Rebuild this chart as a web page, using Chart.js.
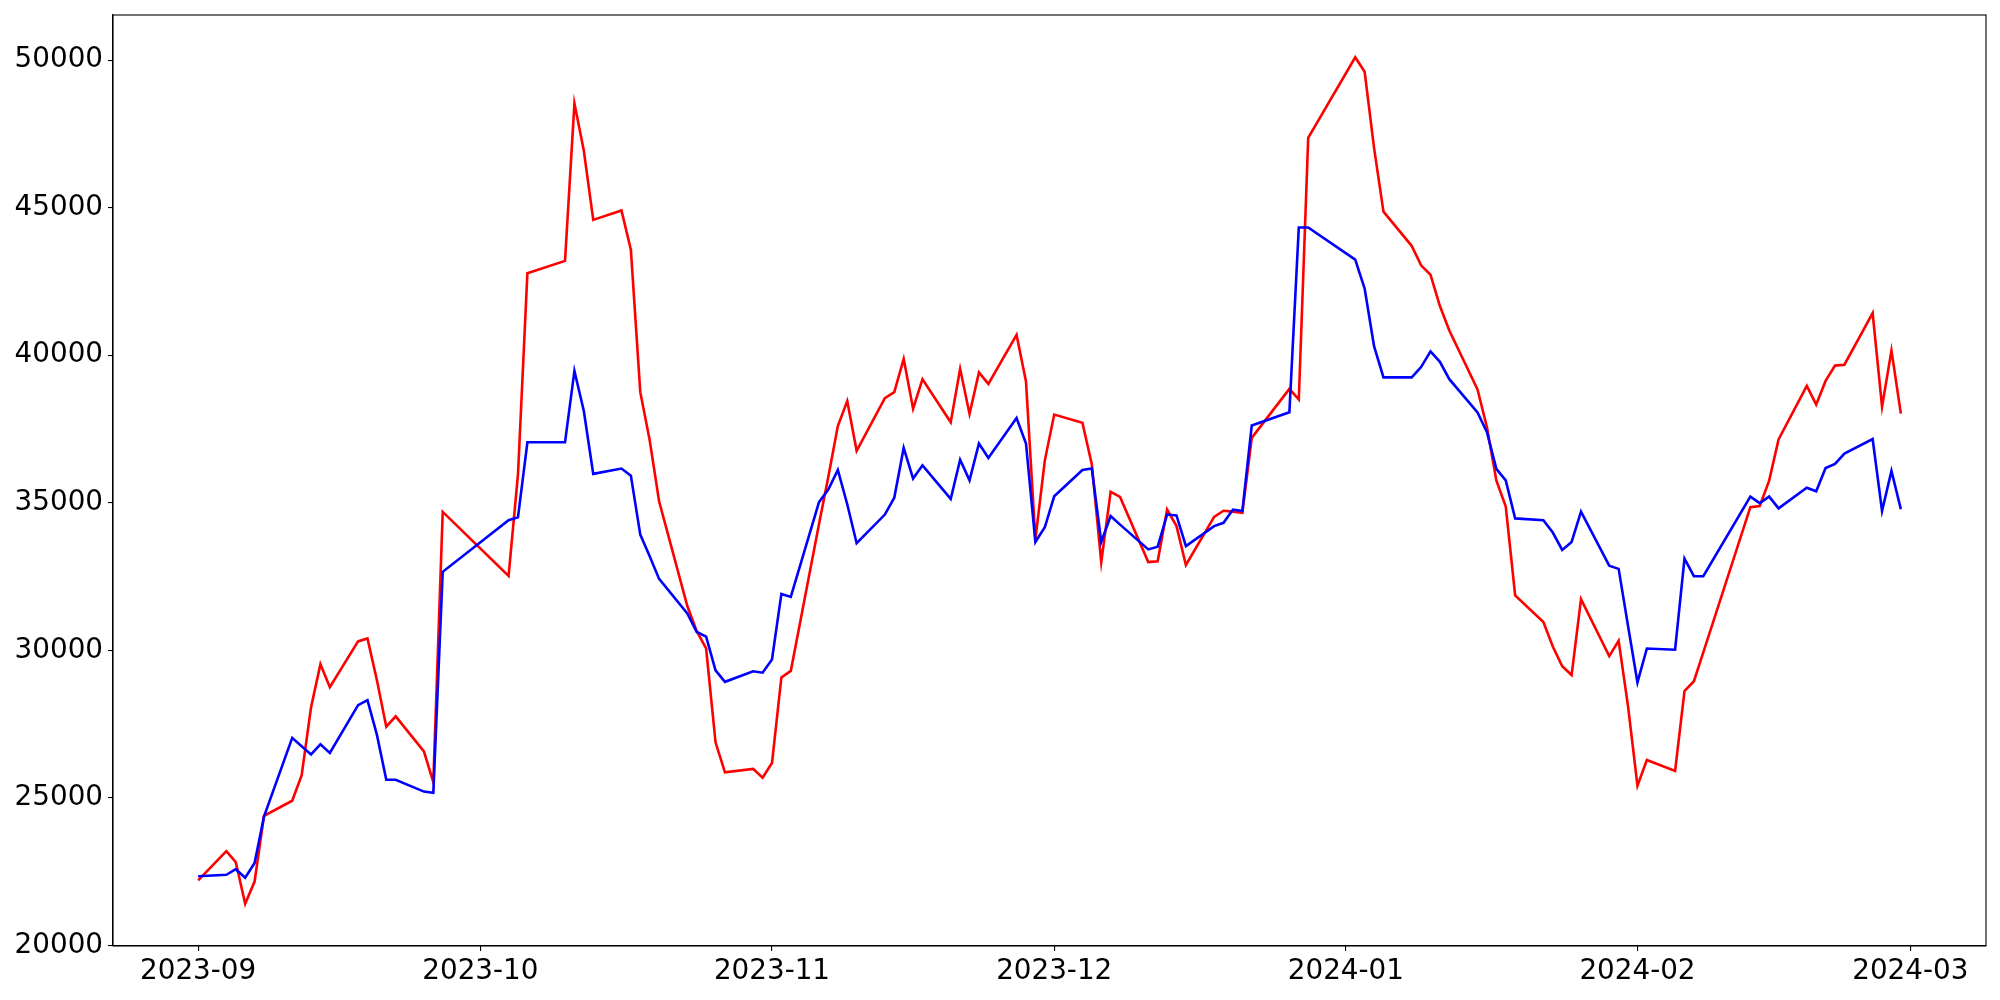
<!DOCTYPE html>
<html>
<head>
<meta charset="utf-8">
<title>Chart</title>
<script src="https://cdn.jsdelivr.net/npm/chart.js@4.4.1/dist/chart.umd.min.js"></script>
<style>
    html, body { margin: 0; padding: 0; background: #ffffff; }
    #chart { display: block; }
</style>
</head>
<body>
<canvas id="chart" width="2000" height="1000"></canvas>
<script>
// Trading days (Sep 2023 - Feb 2024)
const dates = [
    '2023-09-01','2023-09-04','2023-09-05','2023-09-06','2023-09-07','2023-09-08','2023-09-11','2023-09-12','2023-09-13','2023-09-14',
    '2023-09-15','2023-09-18','2023-09-19','2023-09-20','2023-09-21','2023-09-22','2023-09-25','2023-09-26','2023-09-27',
    '2023-10-04','2023-10-05','2023-10-06','2023-10-10','2023-10-11','2023-10-12','2023-10-13','2023-10-16','2023-10-17','2023-10-18',
    '2023-10-19','2023-10-20','2023-10-23','2023-10-24','2023-10-25','2023-10-26','2023-10-27','2023-10-30','2023-10-31',
    '2023-11-01','2023-11-02','2023-11-03','2023-11-06','2023-11-07','2023-11-08','2023-11-09','2023-11-10','2023-11-13','2023-11-14',
    '2023-11-15','2023-11-16','2023-11-17','2023-11-20','2023-11-21','2023-11-22','2023-11-23','2023-11-24','2023-11-27','2023-11-28',
    '2023-11-29','2023-11-30',
    '2023-12-01','2023-12-04','2023-12-05','2023-12-06','2023-12-07','2023-12-08','2023-12-11','2023-12-12','2023-12-13','2023-12-14',
    '2023-12-15','2023-12-18','2023-12-19','2023-12-20','2023-12-21','2023-12-22','2023-12-26','2023-12-27','2023-12-28',
    '2024-01-02','2024-01-03','2024-01-04','2024-01-05','2024-01-08','2024-01-09','2024-01-10','2024-01-11','2024-01-12','2024-01-15',
    '2024-01-16','2024-01-17','2024-01-18','2024-01-19','2024-01-22','2024-01-23','2024-01-24','2024-01-25','2024-01-26','2024-01-29',
    '2024-01-30','2024-01-31',
    '2024-02-01','2024-02-02','2024-02-05','2024-02-06','2024-02-07','2024-02-08','2024-02-13','2024-02-14','2024-02-15','2024-02-16',
    '2024-02-19','2024-02-20','2024-02-21','2024-02-22','2024-02-23','2024-02-26','2024-02-27','2024-02-28','2024-02-29'
];

// Serie roja
const redValues = [
    22200, 23190, 22820, 21410, 22160, 24390, 24900, 25760, 28060, 29530,
    28750, 30300, 30400, 28990, 27410, 27760, 26570, 25530, 34690,
    32520, 35960, 42780, 43200, 48540, 46930, 44590, 44910, 43580, 38750,
    37120, 35050, 31500, 30650, 30060, 26880, 25860, 25980, 25680,
    26180, 29080, 29300, 34280, 35900, 37600, 38450, 36760, 38550, 38750,
    39880, 38190, 39190, 37730, 39540, 38010, 39420, 39030, 40690, 39110,
    33760, 36430,
    37990, 37710, 36300, 32990, 35370, 35200, 32990, 33020, 34770, 34210,
    32890, 34520, 34730, 34700, 34660, 37200, 38860, 38500, 47370,
    50100, 49610, 47030, 44870, 43710, 43050, 42730, 41670, 40840, 38840,
    37560, 35760, 34870, 31860, 30960, 30130, 29460, 29160, 31730, 29800,
    30320, 28100,
    25410, 26280, 25910, 28620, 28950, 29930, 34850, 34890, 35750, 37150,
    38960, 38330, 39130, 39650, 39680, 41430, 38260, 40160, 38020
];

// Serie azul
const blueValues = [
    22340, 22390, 22580, 22290, 22790, 24360, 27030, 26750, 26470, 26810,
    26520, 28140, 28310, 27140, 25610, 25610, 25210, 25170, 32660,
    34410, 34510, 37050, 37050, 39470, 38110, 35980, 36160, 35920, 33920,
    33190, 32420, 31250, 30620, 30460, 29320, 28930, 29290, 29240,
    29690, 31910, 31810, 35020, 35460, 36110, 34950, 33630, 34600, 35170,
    36860, 35820, 36270, 35130, 36460, 35760, 37010, 36520, 37870, 37010,
    33670, 34170,
    35220, 36110, 36160, 33670, 34550, 34260, 33420, 33510, 34600, 34570,
    33530, 34210, 34320, 34770, 34720, 37620, 38070, 44330, 44330,
    43240, 42260, 40310, 39250, 39250, 39600, 40130, 39780, 39190, 38060,
    37390, 36150, 35760, 34470, 34410, 33990, 33400, 33670, 34700, 32870,
    32760, 30820,
    28910, 30060, 30020, 33110, 32510, 32510, 35210, 34990, 35210, 34810,
    35510, 35390, 36180, 36320, 36670, 37160, 34720, 36080, 34780
];

// Ticks del eje X (inicio de cada mes) y del eje Y
const xTickDates = ['2023-09-01', '2023-10-01', '2023-11-01', '2023-12-01', '2024-01-01', '2024-02-01', '2024-03-01'];
const xTickLabels = ['2023-09', '2023-10', '2023-11', '2023-12', '2024-01', '2024-02', '2024-03'];
const yTicks = [20000, 25000, 30000, 35000, 40000, 45000, 50000];

document.addEventListener('DOMContentLoaded', () => {
    const DAY = 86400000;
    const origin = Date.parse(dates[0]);
    const toDay = (d) => (Date.parse(d) - origin) / DAY;

    const days = dates.map(toDay);
    const xTickDays = xTickDates.map(toDay);

    // margen del 5% como matplotlib
    const xSpan = days[days.length - 1] - days[0];
    const allValues = redValues.concat(blueValues);
    const yLo = Math.min(...allValues);
    const yHi = Math.max(...allValues);
    const ySpan = yHi - yLo;

    const font = { family: 'DejaVu Sans', size: 27.8 };
    const lineWidth = 2.6;

    // Marco completo alrededor del área del gráfico
    const frame = {
        id: 'frame',
        afterDraw(chart) {
            const { ctx, chartArea } = chart;
            ctx.save();
            ctx.strokeStyle = '#000000';
            ctx.lineWidth = 1.1;
            ctx.strokeRect(chartArea.left, chartArea.top, chartArea.right - chartArea.left, chartArea.bottom - chartArea.top);
            ctx.restore();
        }
    };

    new Chart(document.getElementById('chart'), {
        type: 'line',
        data: {
            datasets: [
                {
                    data: days.map((d, i) => ({ x: d, y: blueValues[i] })),
                    borderColor: '#0000ff',
                    borderWidth: lineWidth,
                    pointRadius: 0,
                    tension: 0,
                    fill: false
                },
                {
                    data: days.map((d, i) => ({ x: d, y: redValues[i] })),
                    borderColor: '#ff0000',
                    borderWidth: lineWidth,
                    pointRadius: 0,
                    tension: 0,
                    fill: false
                }
            ]
        },
        options: {
            responsive: false,
            devicePixelRatio: 1,
            animation: false,
            layout: { padding: { left: 0, top: 15, right: 14, bottom: 0 } },
            plugins: {
                legend: { display: false },
                tooltip: { enabled: false }
            },
            scales: {
                x: {
                    type: 'linear',
                    min: days[0] - xSpan * 0.05,
                    max: days[days.length - 1] + xSpan * 0.05,
                    afterBuildTicks: (scale) => { scale.ticks = xTickDays.map(v => ({ value: v })); },
                    afterFit: (scale) => { scale.height = 54; scale.paddingLeft = 0; scale.paddingRight = 0; },
                    grid: { drawOnChartArea: false, drawTicks: true, tickLength: 5, color: '#000000', lineWidth: 1.1 },
                    border: { display: true, color: '#000000', width: 1.1 },
                    ticks: {
                        color: '#000000',
                        font: font,
                        padding: 4,
                        maxRotation: 0,
                        autoSkip: false,
                        callback: (value) => {
                            const idx = xTickDays.indexOf(value);
                            return idx >= 0 ? xTickLabels[idx] : '';
                        }
                    }
                },
                y: {
                    type: 'linear',
                    min: yLo - ySpan * 0.05,
                    max: yHi + ySpan * 0.05,
                    afterBuildTicks: (scale) => { scale.ticks = yTicks.map(v => ({ value: v })); },
                    afterFit: (scale) => { scale.width = 113; scale.paddingTop = 0; scale.paddingBottom = 0; },
                    grid: { drawOnChartArea: false, drawTicks: true, tickLength: 5, color: '#000000', lineWidth: 1.1 },
                    border: { display: true, color: '#000000', width: 1.1 },
                    ticks: {
                        color: '#000000',
                        font: font,
                        padding: 5,
                        autoSkip: false,
                        callback: (value) => String(value)
                    }
                }
            }
        },
        plugins: [frame]
    });
});
</script>
</body>
</html>
